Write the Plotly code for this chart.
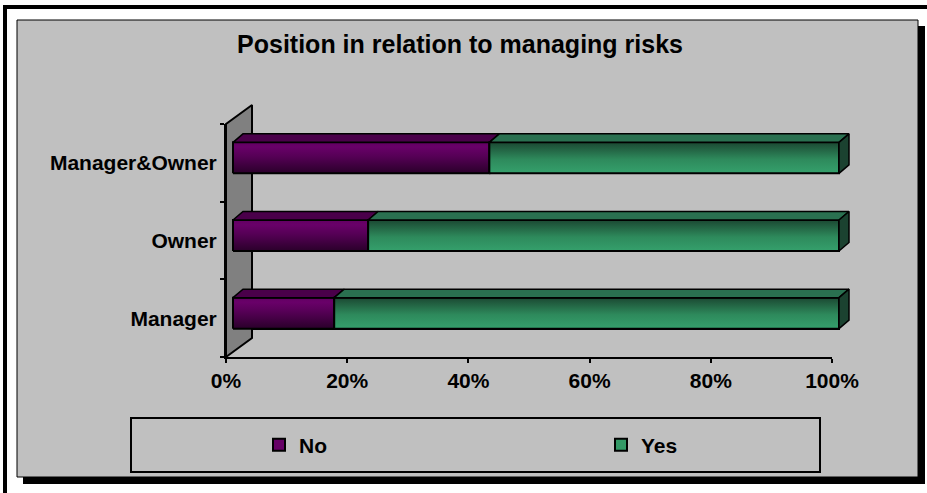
import plotly.graph_objects as go

# ---- data -------------------------------------------------------------
categories = ["Manager", "Owner", "Manager&Owner"]
no_pct = [16.7, 22.3, 42.3]
yes_pct = [83.3, 77.7, 57.7]
x_ticks = [0, 20, 40, 60, 80, 100]
series_names = ["No", "Yes"]

# ---- canvas / scale set-up (pixels) ------------------------------------
W, H = 927, 493
X0_PX, X100_PX = 226, 832          # 0% and 100% on the front plane
Y0_PX, YTOP_PX = 357, 124          # floor and top of the category band
PXX = (X100_PX - X0_PX) / 1.0      # px per unit (fraction of 100%)
PXY = (Y0_PX - YTOP_PX) / 3.0      # px per category band


def px_x(p):
    return p / W


def px_y(p):
    return 1 - p / H


def ux(px):
    return px / PXX


def uy(px):
    return px / PXY


# 3-D look: offsets of the bar front plane and depth of bars / wall
FX, FY = ux(7), uy(5)
BDX, BDY = ux(10), uy(8.5)
BH = uy(31)
WDX, WDY = ux(26), uy(19)

# overlay subplot with the same scale but a larger window for the depth
OX0, OX1 = 200, 880
OY0, OY1 = 378, 88
x2_range = [(OX0 - X0_PX) / PXX, (OX1 - X0_PX) / PXX]
y2_range = [-(OY0 - Y0_PX) / PXY, (Y0_PX - OY1) / PXY]

FRONT = {
    "No": [[0, "#2a002a"], [0.55, "#560056"], [0.85, "#690069"], [1, "#620062"]],
    "Yes": [[0, "#35a06c"], [0.45, "#2e8a5c"], [1, "#1b4832"]],
}
TOP = {"No": "#4a004a", "Yes": "#2a7050"}
SOLID = {"No": "#660066", "Yes": "#339966"}
END = "#1b4230"
LEGEND_W = {"No": 297, "Yes": 60}

fig = go.Figure()

# invisible trace so the main axes are drawn
fig.add_trace(go.Scatter(x=[0, 1], y=[0, 3], mode="none", showlegend=False,
                         hoverinfo="skip"))

# side wall
fig.add_trace(go.Scatter(
    x=[0, 0, WDX, WDX, 0], y=[0, 3, 3 + WDY, WDY, 0],
    mode="lines", fill="toself", fillcolor="#808080",
    line=dict(color="black", width=2), xaxis="x2", yaxis="y2",
    showlegend=False, hoverinfo="skip"))

centers = [i + 0.5 for i in range(len(categories))]
no_f = [v / 100 for v in no_pct]
yes_f = [v / 100 for v in yes_pct]

# base bars (front faces, also provide the legend entries)
fig.add_trace(go.Bar(
    name="No", orientation="h", y=[c + FY for c in centers], x=no_f,
    base=[FX] * len(no_f), width=BH, legendwidth=LEGEND_W["No"],
    marker=dict(color=SOLID["No"], line=dict(color="black", width=2)),
    xaxis="x2", yaxis="y2", hoverinfo="skip"))
fig.add_trace(go.Bar(
    name="Yes", orientation="h", y=[c + FY for c in centers], x=yes_f,
    base=[FX + n for n in no_f], width=BH, legendwidth=LEGEND_W["Yes"],
    marker=dict(color=SOLID["Yes"], line=dict(color="black", width=2)),
    xaxis="x2", yaxis="y2", hoverinfo="skip"))

# shaded faces on top of each bar segment
for c, n, y in zip(centers, no_f, yes_f):
    yb = c + FY - BH / 2
    yt = c + FY + BH / 2
    segs = [("No", FX, FX + n), ("Yes", FX + n, FX + n + y)]
    for name, a, b in segs:
        # front face with vertical gradient
        fig.add_trace(go.Scatter(
            x=[a, b, b, a, a], y=[yb, yb, yt, yt, yb],
            mode="lines", fill="toself",
            fillgradient=dict(type="vertical", colorscale=FRONT[name],
                              start=yb, stop=yt),
            line=dict(color="black", width=2), xaxis="x2", yaxis="y2",
            showlegend=False, hoverinfo="skip"))
        # top face
        fig.add_trace(go.Scatter(
            x=[a, b, b + BDX, a + BDX, a], y=[yt, yt, yt + BDY, yt + BDY, yt],
            mode="lines", fill="toself", fillcolor=TOP[name],
            line=dict(color="black", width=1.5), xaxis="x2", yaxis="y2",
            showlegend=False, hoverinfo="skip"))
    # right end face of the stack
    e = FX + n + y
    fig.add_trace(go.Scatter(
        x=[e, e + BDX, e + BDX, e, e], y=[yb, yb + BDY, yt + BDY, yt, yb],
        mode="lines", fill="toself", fillcolor=END,
        line=dict(color="black", width=1.5), xaxis="x2", yaxis="y2",
        showlegend=False, hoverinfo="skip"))

FONT = dict(family="Liberation Sans, Arial, sans-serif", size=21,
            color="black", weight="bold")

shapes = [
    # outer frame
    dict(type="rect", xref="paper", yref="paper",
         x0=px_x(5), x1=px_x(W + 20), y0=px_y(H + 20), y1=px_y(7),
         line=dict(color="black", width=4), layer="below"),
    # drop shadow of the chart area
    dict(type="rect", xref="paper", yref="paper",
         x0=px_x(23), x1=px_x(925), y0=px_y(484), y1=px_y(26),
         fillcolor="black", line=dict(width=0), layer="below"),
    # chart area
    dict(type="rect", xref="paper", yref="paper",
         x0=px_x(17), x1=px_x(918), y0=px_y(477), y1=px_y(20),
         fillcolor="#C0C0C0", line=dict(color="black", width=1), layer="below"),
    # legend box
    dict(type="rect", xref="paper", yref="paper",
         x0=px_x(131), x1=px_x(820), y0=px_y(472), y1=px_y(418),
         line=dict(color="black", width=2), layer="below"),
]

fig.update_layout(
    width=W, height=H, autosize=False,
    margin=dict(l=0, r=0, t=0, b=0, pad=0, autoexpand=False),
    paper_bgcolor="white", plot_bgcolor="rgba(0,0,0,0)",
    barmode="overlay", bargap=0,
    font=FONT,
    title=dict(text="Position in relation to managing risks",
               x=px_x(460), xanchor="center", y=px_y(44), yanchor="middle",
               font=dict(family="Liberation Sans, Arial, sans-serif", size=25,
                         color="black", weight="bold")),
    xaxis=dict(domain=[px_x(X0_PX), px_x(X100_PX)], range=[0, 1],
               tickvals=[t / 100 for t in x_ticks],
               ticktext=[f"{t}%" for t in x_ticks],
               showline=True, linecolor="black", linewidth=2,
               ticks="outside", ticklen=4, tickwidth=2, tickcolor="black",
               showgrid=False, zeroline=False, tickfont=FONT,
               anchor="y", fixedrange=True),
    yaxis=dict(domain=[px_y(Y0_PX), px_y(YTOP_PX)], range=[0, 3],
               tickvals=centers, ticktext=categories,
               showline=True, linecolor="black", linewidth=2,
               ticks="", showgrid=False, zeroline=False, tickfont=FONT,
               ticklabelstandoff=3,
               minor=dict(tickvals=[0, 1, 2, 3], ticks="outside", ticklen=4,
                          tickwidth=2, tickcolor="black", showgrid=False),
               anchor="x", fixedrange=True),
    xaxis2=dict(domain=[px_x(OX0), px_x(OX1)], range=x2_range, visible=False,
                anchor="y2", fixedrange=True),
    yaxis2=dict(domain=[px_y(OY0), px_y(OY1)], range=y2_range, visible=False,
                anchor="x2", fixedrange=True),
    legend=dict(orientation="h", x=px_x(259), xanchor="left",
                y=px_y(445), yanchor="middle",
                bgcolor="rgba(0,0,0,0)", borderwidth=0,
                font=FONT, traceorder="normal"),
    shapes=shapes,
)

fig.write_html("out.html")
